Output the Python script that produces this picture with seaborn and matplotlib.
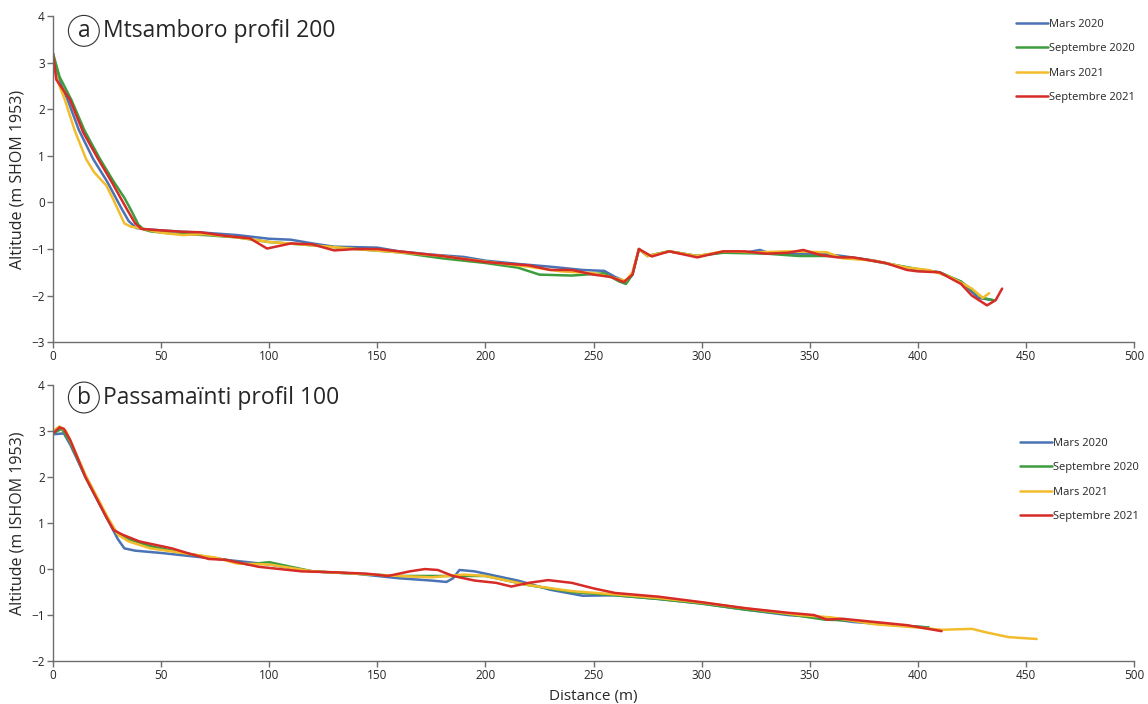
import matplotlib
matplotlib.use("Agg")
import matplotlib.pyplot as plt
import seaborn as sns
import pandas as pd

# --- données ---
surveys = ["Mars 2020", "Septembre 2020", "Mars 2021", "Septembre 2021"]
colors = ["#4a72b4", "#3d9c3d", "#f2bc2c", "#d62b27"]

# Mtsamboro profil 200
a_m20_x = [0, 3, 6.8, 12, 18.6, 25, 31.8, 35, 38.5, 42, 50, 60, 70, 85, 100, 110, 120, 130, 150, 160, 175, 190, 200, 215, 230, 245, 255, 260, 265, 268, 271, 275, 285, 298, 310, 320, 327, 332, 345, 355, 365, 380, 390, 400, 410, 420, 428, 435]
a_m20_y = [3.15, 2.6, 2.2, 1.55, 0.93, 0.45, -0.14, -0.4, -0.55, -0.57, -0.6, -0.63, -0.65, -0.7, -0.78, -0.8, -0.88, -0.95, -0.97, -1.05, -1.12, -1.17, -1.25, -1.32, -1.38, -1.45, -1.47, -1.6, -1.7, -1.55, -1.0, -1.15, -1.05, -1.15, -1.07, -1.08, -1.02, -1.1, -1.1, -1.1, -1.15, -1.25, -1.35, -1.45, -1.5, -1.7, -2.05, -2.1]
a_s20_x = [0, 3, 8.5, 14.5, 21.5, 28, 33, 36.5, 39.5, 42, 45, 55, 70, 85, 100, 120, 140, 160, 180, 200, 215, 225, 240, 255, 262, 265, 268, 271, 275, 285, 298, 310, 330, 345, 360, 375, 390, 400, 410, 420, 430, 435]
a_s20_y = [3.2, 2.7, 2.2, 1.55, 0.95, 0.45, 0.1, -0.2, -0.48, -0.58, -0.62, -0.67, -0.7, -0.75, -0.85, -0.92, -1.0, -1.07, -1.2, -1.3, -1.4, -1.55, -1.57, -1.52, -1.7, -1.75, -1.55, -1.0, -1.15, -1.05, -1.15, -1.08, -1.1, -1.15, -1.15, -1.22, -1.35, -1.43, -1.5, -1.7, -2.05, -2.1]
a_m21_x = [0, 3, 5.5, 10, 15.3, 19, 24.7, 28, 30.5, 33, 36, 40, 50, 60, 70, 85, 100, 120, 140, 160, 180, 200, 220, 235, 250, 262, 265, 268, 271, 275, 285, 298, 310, 325, 340, 358, 365, 380, 395, 405, 415, 425, 430, 433]
a_m21_y = [2.95, 2.5, 2.2, 1.55, 0.93, 0.65, 0.36, 0.05, -0.2, -0.45, -0.52, -0.55, -0.65, -0.7, -0.68, -0.75, -0.85, -0.92, -1.0, -1.07, -1.15, -1.27, -1.38, -1.48, -1.52, -1.65, -1.68, -1.5, -1.0, -1.15, -1.05, -1.15, -1.05, -1.07, -1.05, -1.07, -1.2, -1.25, -1.4, -1.45, -1.6, -1.85, -2.05, -1.95]
a_s21_x = [0, 1.5, 3.5, 7.9, 14, 20.9, 27, 34.1, 38, 41, 50, 60, 68, 80, 91, 99, 110, 120, 130, 140, 150, 160, 180, 200, 220, 230, 240, 250, 258, 264, 268, 271, 277, 285, 298, 310, 320, 330, 340, 347, 355, 363, 370, 385, 395, 400, 410, 420, 425, 432, 436, 439]
a_s21_y = [3.2, 2.64, 2.5, 2.2, 1.5, 0.93, 0.45, -0.14, -0.45, -0.57, -0.6, -0.63, -0.64, -0.72, -0.77, -0.99, -0.88, -0.9, -1.03, -1.0, -1.0, -1.05, -1.15, -1.28, -1.35, -1.45, -1.45, -1.55, -1.6, -1.71, -1.55, -1.0, -1.16, -1.05, -1.18, -1.05, -1.05, -1.1, -1.08, -1.02, -1.13, -1.18, -1.18, -1.3, -1.45, -1.48, -1.5, -1.75, -2.0, -2.21, -2.1, -1.85]

# Passamaïnti profil 100
b_m20_x = [0, 5, 8, 15, 25, 30, 33, 38, 50, 60, 80, 100, 120, 140, 160, 175, 182, 185, 188, 195, 200, 215, 230, 245, 260, 280, 300, 320, 340, 355, 370, 390, 405]
b_m20_y = [2.93, 2.95, 2.7, 2.0, 1.1, 0.65, 0.45, 0.4, 0.35, 0.3, 0.2, 0.1, -0.05, -0.1, -0.2, -0.25, -0.28, -0.2, -0.02, -0.05, -0.1, -0.25, -0.45, -0.58, -0.57, -0.65, -0.75, -0.88, -1.0, -1.05, -1.15, -1.22, -1.27]
b_s20_x = [0, 4, 8, 15, 25, 30, 35, 45, 60, 80, 90, 100, 110, 120, 140, 160, 180, 200, 220, 240, 260, 280, 300, 320, 340, 357, 370, 390, 405]
b_s20_y = [2.95, 3.05, 2.75, 2.0, 1.1, 0.75, 0.65, 0.5, 0.35, 0.2, 0.1, 0.15, 0.05, -0.05, -0.1, -0.15, -0.15, -0.15, -0.35, -0.5, -0.57, -0.65, -0.75, -0.88, -0.98, -1.1, -1.12, -1.22, -1.27]
b_m21_x = [0, 3, 6, 15, 25, 30, 35, 45, 60, 75, 85, 100, 120, 140, 160, 175, 190, 200, 220, 240, 260, 280, 300, 320, 345, 360, 380, 400, 411, 425, 432, 442, 455]
b_m21_y = [3.0, 3.1, 3.0, 2.05, 1.15, 0.75, 0.6, 0.45, 0.35, 0.25, 0.12, 0.1, -0.05, -0.1, -0.15, -0.18, -0.12, -0.15, -0.35, -0.48, -0.55, -0.63, -0.73, -0.85, -1.0, -1.05, -1.2, -1.27, -1.32, -1.3, -1.38, -1.48, -1.52]
b_s21_x = [0, 3, 5, 8, 15, 25, 28, 32, 40, 50, 55, 62, 72, 80, 90, 95, 105, 115, 130, 145, 155, 165, 172, 178, 185, 195, 205, 212, 220, 229, 240, 250, 260, 280, 300, 320, 340, 352, 358, 365, 380, 395, 411]
b_s21_y = [2.95, 3.08, 3.05, 2.8, 2.0, 1.1, 0.85, 0.75, 0.6, 0.5, 0.45, 0.35, 0.22, 0.2, 0.1, 0.05, 0.0, -0.05, -0.07, -0.1, -0.15, -0.05, 0.0, -0.02, -0.15, -0.25, -0.3, -0.38, -0.3, -0.24, -0.3, -0.42, -0.52, -0.6, -0.72, -0.85, -0.95, -1.0, -1.1, -1.08, -1.15, -1.22, -1.35]


def long_df(series):
    rows = []
    for name, xs, ys in series:
        for x, y in zip(xs, ys):
            rows.append({"Distance": x, "Altitude": y, "Levé": name})
    return pd.DataFrame(rows)


df_a = long_df(zip(surveys, [a_m20_x, a_s20_x, a_m21_x, a_s21_x], [a_m20_y, a_s20_y, a_m21_y, a_s21_y]))
df_b = long_df(zip(surveys, [b_m20_x, b_s20_x, b_m21_x, b_s21_x], [b_m20_y, b_s20_y, b_m21_y, b_s21_y]))

sns.set_theme(style="ticks")
plt.rcParams['font.family'] = ['Open Sans', 'DejaVu Sans']

fig = plt.figure(figsize=(11.48, 7.04), dpi=100)
ax_a = fig.add_axes([0.0462, 0.514, 0.9416, 0.463])
ax_b = fig.add_axes([0.0462, 0.061, 0.9416, 0.392])

palette = dict(zip(surveys, colors))

panels = [
    (ax_a, df_a, "a", "Mtsamboro profil 200", "Altitude (m SHOM 1953)", (-3, 4), (1.01, 1.022)),
    (ax_b, df_b, "b", "Passamaïnti profil 100", "Altitude (m ISHOM 1953)", (-2, 4), (1.014, 0.845)),
]

for ax, df, letter, title, ylab, ylim, leg_pos in panels:
    sns.lineplot(data=df, x="Distance", y="Altitude", hue="Levé", hue_order=surveys,
                 palette=palette, estimator=None, sort=False, linewidth=1.8, ax=ax)
    for ln in ax.get_lines():
        ln.set_solid_joinstyle("round")
    ax.set_xlim(0, 500)
    ax.set_ylim(*ylim)
    ax.set_xticks(range(0, 501, 50))
    ax.set_yticks(range(ylim[0], ylim[1] + 1))
    for s in ["top", "right"]:
        ax.spines[s].set_visible(False)
    for s in ["left", "bottom"]:
        ax.spines[s].set_color("#6d6d6d")
        ax.spines[s].set_linewidth(1.0)
    ax.tick_params(axis="both", labelsize=8.5, length=4, width=1.0, color="#6d6d6d", pad=2)
    ax.set_ylabel(ylab, fontsize=11.5, labelpad=4)
    ax.set_xlabel("")
    # lettre entourée + titre
    ax.text(0.0285, 0.955, letter, transform=ax.transAxes, fontsize=16.5, ha="center", va="center",
            bbox=dict(boxstyle="circle,pad=0.15", fc="white", ec="#333333", lw=0.8))
    ax.text(0.046, 0.955, title, transform=ax.transAxes, fontsize=16.5, ha="left", va="center")
    ax.legend(loc="upper right", bbox_to_anchor=leg_pos, frameon=False, fontsize=8,
              handlelength=2.9, handletextpad=0.1, labelspacing=1.2)

ax_b.set_xlabel("Distance (m)", fontsize=11, labelpad=5)

fig.savefig("out.png", dpi=100)
